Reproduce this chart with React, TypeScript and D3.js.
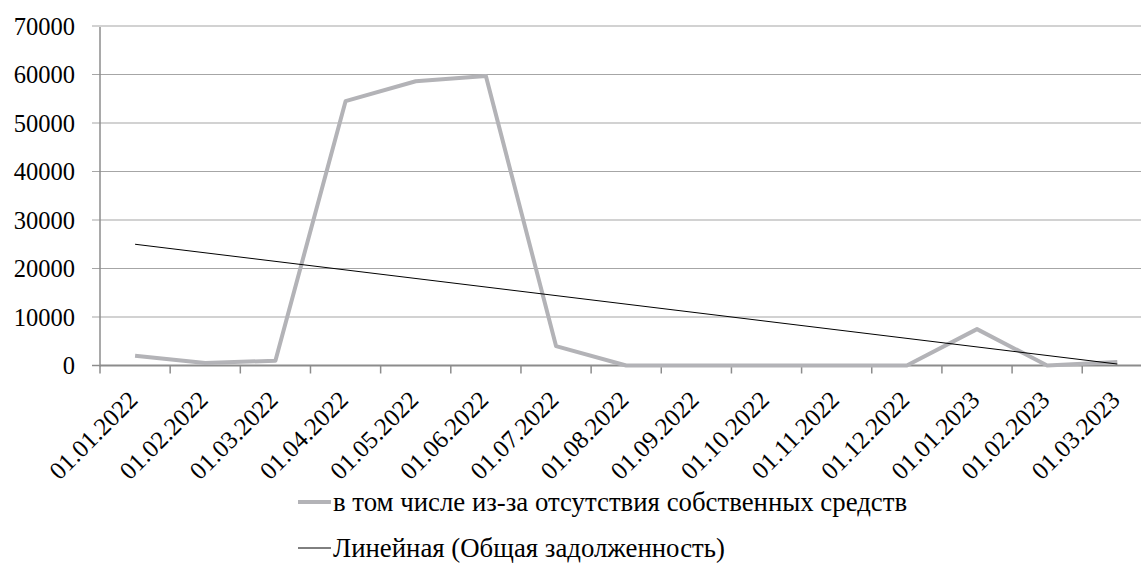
import React from "react";
import * as d3 from "d3";

const categories = [
  "01.01.2022", "01.02.2022", "01.03.2022", "01.04.2022", "01.05.2022",
  "01.06.2022", "01.07.2022", "01.08.2022", "01.09.2022", "01.10.2022",
  "01.11.2022", "01.12.2022", "01.01.2023", "01.02.2023", "01.03.2023",
];
const ownFundsShortage = [
  2000, 500, 1000, 54500, 58600, 59700, 4000, 0, 0, 0, 0, 0, 7500, 0, 700,
];
// Linear trend of "Общая задолженность" – endpoints
const trendStart = 25000;
const trendEnd = 300;
const yTicks = [0, 10000, 20000, 30000, 40000, 50000, 60000, 70000];
const seriesName = "в том числе из-за отсутствия собственных средств";
const trendName = "Линейная (Общая задолженность)";

const W = 1141;
const H = 584;
const FONT = "'Liberation Serif', 'Times New Roman', Tinos, 'DejaVu Serif', 'Noto Serif', serif";
const fsAxis = { fontFamily: FONT, fontSize: 24.5 } as React.CSSProperties;
const fsX = { fontFamily: FONT, fontSize: 25 } as React.CSSProperties;
const fsLegend = { fontFamily: FONT, fontSize: 26.8 } as React.CSSProperties;

export default function App() {
  const x = d3
    .scaleBand<string>()
    .domain(categories)
    .range([100, 100 + 70.16 * categories.length])
    .paddingInner(0)
    .paddingOuter(0);
  const y = d3.scaleLinear().domain([0, 70000]).range([365.5, 26]);
  const cx = (c: string) => (x(c) as number) + x.bandwidth() / 2;

  const line = d3
    .line<number>()
    .x((_, i) => cx(categories[i]))
    .y((d) => y(d));

  const first = categories[0];
  const last = categories[categories.length - 1];

  return (
    <svg
      width={W}
      height={H}
      style={{ position: "absolute", left: 0, top: 0, background: "#fff", fontFamily: FONT }}
    >
      {/* gridlines & y tick labels */}
      {yTicks.map((t) => (
        <g key={t}>
          {t !== 0 && (
            <line x1={92} x2={W} y1={y(t)} y2={y(t)} stroke="#a6a6a6" strokeWidth={1.2} />
          )}
          {t === 0 && <line x1={92} x2={100} y1={y(t)} y2={y(t)} stroke="#8c8c8c" strokeWidth={1.5} />}
          <text x={75} y={y(t)} dy="0.35em" textAnchor="end" style={fsAxis} fill="#000">
            {t}
          </text>
        </g>
      ))}
      {/* y axis */}
      <line x1={100} x2={100} y1={y(70000) + 1} y2={y(0) + 1} stroke="#8c8c8c" strokeWidth={1.5} />
      {/* x axis */}
      <line x1={100} x2={W} y1={y(0)} y2={y(0)} stroke="#8c8c8c" strokeWidth={2} />
      {categories.map((c) => (
        <line
          key={"t" + c}
          x1={x(c) as number}
          x2={x(c) as number}
          y1={y(0)}
          y2={y(0) + 8}
          stroke="#8c8c8c"
          strokeWidth={1.5}
        />
      ))}
      {/* x labels */}
      {categories.map((c) => (
        <text
          key={"l" + c}
          transform={`translate(${cx(c) + 4},${y(0) + 36}) rotate(-45)`}
          textAnchor="end"
          style={fsX}
          fill="#000"
        >
          {c}
        </text>
      ))}
      {/* series */}
      <path
        d={line(ownFundsShortage) || ""}
        fill="none"
        stroke="#b3b3b7"
        strokeWidth={4}
        strokeLinejoin="round"
      />
      {/* trend line */}
      <line
        x1={cx(first)}
        y1={y(trendStart)}
        x2={cx(last)}
        y2={y(trendEnd)}
        stroke="#000"
        strokeWidth={1}
      />
      {/* legend */}
      <g>
        <line x1={298} x2={331} y1={502} y2={502} stroke="#b3b3b7" strokeWidth={4} />
        <text x={333} y={502} dy="0.35em" style={fsLegend} fill="#000">
          {seriesName}
        </text>
        <line x1={298} x2={331} y1={548} y2={548} stroke="#000" strokeWidth={1} />
        <text x={333} y={548} dy="0.35em" style={fsLegend} fill="#000">
          {trendName}
        </text>
      </g>
    </svg>
  );
}
